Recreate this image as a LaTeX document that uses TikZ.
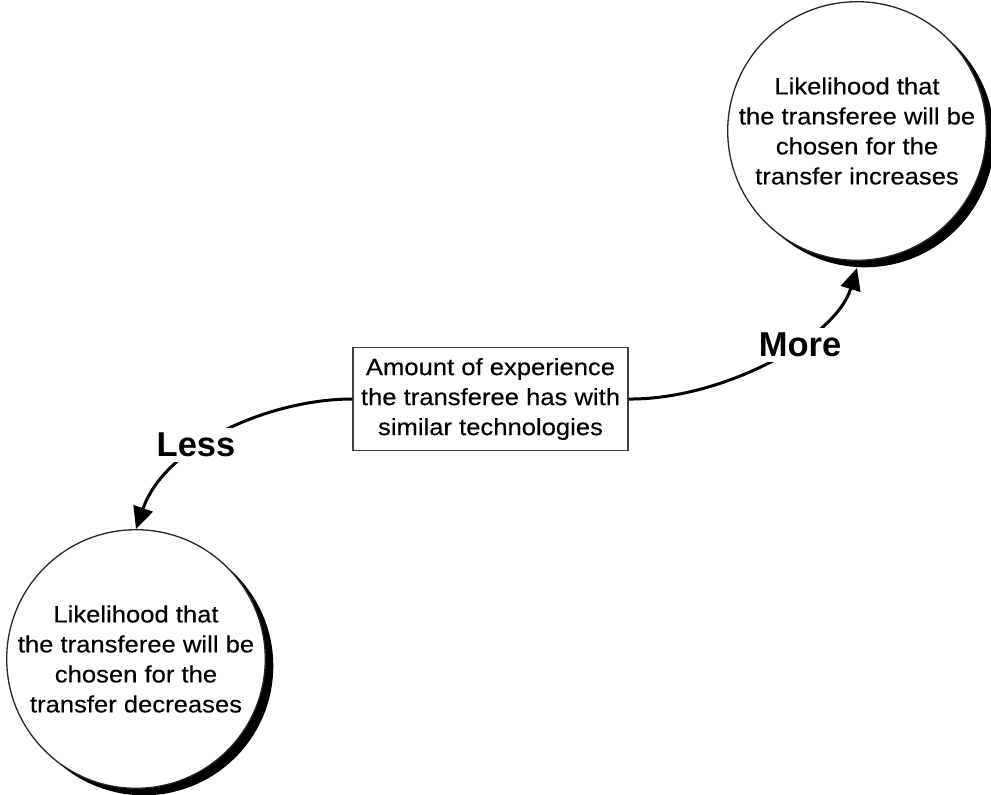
\documentclass[tikz,border=0pt]{standalone}
\usepackage{fontspec}
\setmainfont{Liberation Sans}
\newfontfamily\bodyfont[FakeStretch=1.09, FakeBold=0.3]{Liberation Sans}
\usetikzlibrary{arrows.meta}
\begin{document}
\begin{tikzpicture}[x=1pt,y=-1pt,
  lbl/.style={font=\bodyfont\fontsize{23.5}{30}\selectfont, align=center},
  bubble/.style={circle, draw=black!85, line width=1.3pt, fill=white,
    minimum size=248pt, inner sep=0pt, lbl,
    preaction={fill=black, transform canvas={shift={(8pt,-7pt)}}}},
  factor/.style={rectangle, draw=black!75, line width=1.3pt, fill=white,
    minimum width=275pt, minimum height=103pt, inner sep=0pt, lbl},
  flow/.style={line width=3pt, -{Triangle[length=22pt,width=20pt]}},
  tag/.style={font=\bfseries\fontsize{34.5}{40}\selectfont, fill=white, inner sep=5pt}]
\useasboundingbox (0,0) rectangle (991,795);

% outcome bubbles
\node[bubble] (tc) at (857,131) {Likelihood that\\the transferee will be\\chosen for the\\transfer increases};
\node[bubble] (lc) at (136,659) {Likelihood that\\the transferee will be\\chosen for the\\transfer decreases};

% central factor
\node[factor] (box) at (490.5,399) {Amount of experience\\the transferee has with\\similar technologies};

% connectors
\draw[flow] (box.west) .. controls (270,399) and (165,445) .. (lc.north);
\draw[flow] (box.east) .. controls (720,400) and (835,340) .. ([yshift=-7pt]tc.south);

% connector labels
\node[tag] (less) at (196,445) {Less};
\node[tag] (more) at (800,345) {More};
\end{tikzpicture}
\end{document}
